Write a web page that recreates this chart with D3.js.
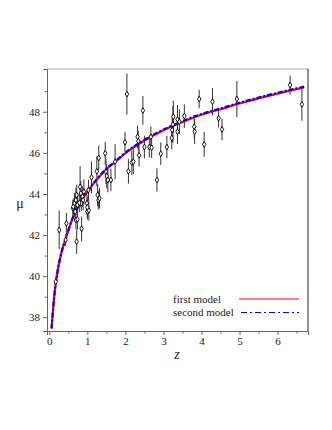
<!DOCTYPE html>
<html>
<head>
<meta charset="utf-8">
<script src="https://cdn.jsdelivr.net/npm/d3@7"></script>
<style>
  body { margin: 0; background: #fff; }
  svg { display: block; }
  svg text { font-family: 'Liberation Serif', 'DejaVu Serif', serif; }
</style>
</head>
<body>
<div class="chart"></div>
<script>
// observed points: redshift, distance modulus, error
const zObs = [0.17, 0.26, 0.45, 0.43, 0.72, 0.70, 0.85, 0.62, 0.66, 0.74, 0.84, 0.87, 0.83, 1.00, 1.04,
  0.99, 1.29, 0.81, 0.91, 1.03, 0.72, 0.70, 0.63, 0.68, 0.74, 1.00, 0.79, 0.89, 1.27, 1.32,
  1.11, 1.30, 1.25, 1.47, 1.49, 1.51, 1.54, 1.62, 1.73, 1.99, 2.04, 2.46, 2.08, 2.17, 2.21,
  2.32, 2.34, 2.36, 2.50, 2.63, 2.67, 2.69, 2.83, 2.93, 3.09, 3.22, 3.25, 3.26, 3.37, 3.23,
  3.42, 3.37, 3.55, 3.81, 3.82, 3.94, 4.07, 4.29, 4.45, 4.54, 4.93, 6.33, 6.64];
const muObs = [39.73, 42.25, 42.57, 41.76, 41.68, 42.73, 42.30, 43.30, 43.55, 43.46, 43.55, 43.87, 44.03, 43.14, 43.20,
  43.55, 43.70, 44.35, 44.11, 44.19, 43.95, 43.70, 43.38, 43.14, 42.77, 43.35, 43.57, 43.70, 43.95, 43.79,
  44.81, 45.75, 45.10, 45.98, 45.08, 44.87, 44.68, 44.68, 45.57, 46.52, 48.86, 48.06, 45.10, 45.52, 45.57,
  46.78, 46.57, 45.88, 46.28, 46.28, 46.78, 46.25, 44.68, 45.96, 46.28, 46.72, 47.39, 47.76, 47.63, 47.11,
  47.51, 47.03, 47.79, 47.27, 47.03, 48.62, 46.41, 48.49, 47.68, 47.14, 48.62, 49.30, 48.36];
const errObs = [0.2, 0.95, 0.5, 0.3, 0.6, 0.45, 0.6, 0.4, 0.5, 0.5, 0.4, 0.5, 0.6, 0.4, 0.5,
  0.4, 0.45, 1.0, 0.6, 0.5, 0.5, 0.6, 0.4, 0.5, 0.5, 0.5, 0.45, 0.5, 0.55, 0.5,
  0.77, 0.6, 0.73, 0.55, 0.6, 0.6, 0.6, 0.55, 0.85, 0.5, 1.0, 0.7, 0.6, 0.6, 0.6,
  0.55, 0.5, 0.55, 0.55, 0.5, 0.5, 0.5, 0.57, 0.55, 0.55, 0.55, 0.9, 0.77, 0.7, 0.6,
  0.6, 0.6, 0.57, 0.57, 0.6, 0.45, 0.6, 0.66, 0.45, 0.53, 0.88, 0.47, 0.8];

// model curves
const zModel = [0.06, 0.1, 0.15, 0.2, 0.3, 0.45, 0.6, 0.8, 1.0, 1.25, 1.5, 1.75, 2.0, 2.5, 3.0, 3.5, 4.0, 4.5, 5.0, 5.5, 6.0, 6.5, 6.7];
const muFirst = [37.45, 38.4, 39.35, 40.03, 41.0, 41.92, 42.75, 43.52, 44.1, 44.7, 45.2, 45.58, 45.98, 46.6, 47.1, 47.5, 47.85, 48.12, 48.4, 48.65, 48.88, 49.1, 49.18];
const muSecond = [37.45, 38.4, 39.35, 40.03, 41.0, 41.93, 42.76, 43.54, 44.12, 44.72, 45.22, 45.61, 46.01, 46.63, 47.13, 47.54, 47.89, 48.16, 48.44, 48.69, 48.92, 49.14, 49.22];

const yMajor = [38, 40, 42, 44, 46, 48];
const yMinor = [39, 41, 43, 45, 47, 49];
const xMajor = [0, 1, 2, 3, 4, 5, 6];
const xMinor = [0.5, 1.5, 2.5, 3.5, 4.5, 5.5, 6.5];

const width = 332;
const height = 430;
const plotLeft = 47, plotRight = 308, plotTop = 69, plotBottom = 331;

const svg = d3.select('.chart').append('svg')
  .attr('width', width)
  .attr('height', height);

const x = d3.scaleLinear().domain([-0.06, 6.8]).range([plotLeft, plotRight]);
const y = d3.scaleLinear().domain([37.33, 50.08]).range([plotBottom, plotTop]);

// frame
svg.append('line').attr('x1', plotLeft).attr('x2', plotRight).attr('y1', plotTop).attr('y2', plotTop)
  .attr('stroke', '#aaa').attr('stroke-width', 1.2);
svg.append('line').attr('x1', plotRight).attr('x2', plotRight).attr('y1', plotTop).attr('y2', plotBottom)
  .attr('stroke', '#222');

svg.append('g')
  .attr('transform', `translate(${plotLeft},0)`)
  .call(d3.axisLeft(y).tickValues(yMajor).tickSize(4).tickPadding(3).tickFormat(d3.format('d')));
svg.append('g')
  .attr('transform', `translate(${plotLeft},0)`)
  .call(d3.axisLeft(y).tickValues(yMinor).tickSize(2.5).tickFormat(''))
  .select('.domain').remove();

svg.append('g')
  .attr('transform', `translate(0,${plotBottom})`)
  .call(d3.axisBottom(x).tickValues(xMajor).tickSize(4).tickPadding(2).tickFormat(d3.format('d')));
svg.append('g')
  .attr('transform', `translate(0,${plotBottom})`)
  .call(d3.axisBottom(x).tickValues(xMinor).tickSize(2.5).tickFormat(''))
  .select('.domain').remove();

svg.selectAll('.domain').attr('stroke', '#666');
svg.selectAll('.tick line').attr('stroke', '#666');
svg.selectAll('.tick text')
  .attr('font-size', 11)
  .attr('fill', '#222');

// axis titles
svg.append('text')
  .attr('x', 20).attr('y', 208)
  .attr('text-anchor', 'middle')
  .attr('font-size', 14)
  .attr('fill', '#222')
  .text('μ');
svg.append('text')
  .attr('x', 177).attr('y', 359)
  .attr('text-anchor', 'middle')
  .attr('font-size', 14)
  .attr('font-style', 'italic')
  .attr('fill', '#222')
  .text('z');

// error bars
const obs = zObs.map((z, i) => ({ z: z, mu: muObs[i], err: errObs[i] }));
svg.selectAll('line.err')
  .data(obs)
  .enter()
  .append('line')
  .attr('class', 'err')
  .attr('x1', (d) => x(d.z))
  .attr('x2', (d) => x(d.z))
  .attr('y1', (d) => y(d.mu - d.err))
  .attr('y2', (d) => y(d.mu + d.err))
  .attr('stroke', '#333')
  .attr('stroke-width', 1);

// model curves
const line = d3.line()
  .x((d) => x(d[0]))
  .y((d) => y(d[1]))
  .curve(d3.curveMonotoneX);

svg.append('path')
  .attr('d', line(zModel.map((z, i) => [z, muFirst[i]])))
  .attr('fill', 'none')
  .attr('stroke', '#f00')
  .attr('stroke-width', 2.2);
svg.append('path')
  .attr('d', line(zModel.map((z, i) => [z, muSecond[i]])))
  .attr('fill', 'none')
  .attr('stroke', '#00f')
  .attr('stroke-width', 2.2)
  .attr('stroke-dasharray', '5,2,2,2');

// markers
svg.selectAll('path.pt')
  .data(obs)
  .enter()
  .append('path')
  .attr('class', 'pt')
  .attr('transform', (d) => `translate(${x(d.z)},${y(d.mu)})`)
  .attr('d', d3.symbol(d3.symbolDiamond, 10))
  .attr('fill', '#fff')
  .attr('stroke', '#000')
  .attr('stroke-width', 0.9);

// legend
const legend = svg.append('g');
legend.append('text').attr('x', 173).attr('y', 303).attr('font-size', 11).attr('fill', '#222').text('first model');
legend.append('text').attr('x', 173).attr('y', 316).attr('font-size', 11).attr('fill', '#222').text('second model');
legend.append('line').attr('x1', 239).attr('x2', 299).attr('y1', 299).attr('y2', 299)
  .attr('stroke', '#f00').attr('stroke-width', 1);
legend.append('line').attr('x1', 241).attr('x2', 299).attr('y1', 312.5).attr('y2', 312.5)
  .attr('stroke', '#00f').attr('stroke-width', 1).attr('stroke-dasharray', '6,3,2,3');
</script>
</body>
</html>
